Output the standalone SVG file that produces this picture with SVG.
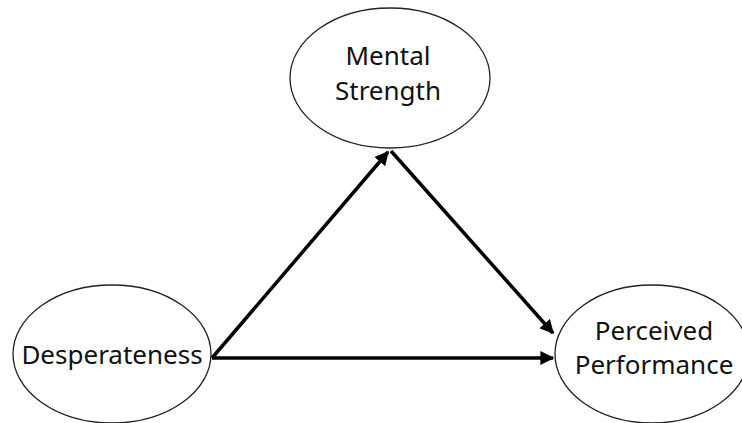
<svg xmlns="http://www.w3.org/2000/svg" width="742" height="423" viewBox="0 0 742 423">
<style>
.node{fill:#fff;stroke:#222;stroke-width:1.3}
.lbl{font-family:"Noto Sans","Open Sans",sans-serif;font-size:26px;fill:#111;text-anchor:middle}
.edge{stroke:#000;stroke-width:3.5;fill:none;marker-end:url(#ah)}
</style>
<defs>
<marker id="ah" viewBox="0 0 10 10" refX="9" refY="5" markerWidth="4" markerHeight="4" orient="auto" markerUnits="strokeWidth">
<path d="M0,0 L10,5 L0,10 z" fill="#000"/>
</marker>
</defs>
<rect width="742" height="423" fill="#fff"/>
<g id="edges">
<path class="edge" d="M212,358 L388,152"/>
<path class="edge" d="M391,151 L553,333"/>
<path class="edge" d="M212,358 L553,358"/>
</g>
<g id="mental">
<ellipse class="node" cx="390" cy="78" rx="100" ry="70"/>
<text class="lbl" x="388" y="65">Mental</text>
<text class="lbl" x="388" y="100">Strength</text>
</g>
<g id="desperateness">
<ellipse class="node" cx="112" cy="354" rx="99" ry="69"/>
<text class="lbl" x="112" y="364">Desperateness</text>
</g>
<g id="perceived">
<ellipse class="node" cx="652" cy="354" rx="97" ry="69"/>
<text class="lbl" x="654" y="340">Perceived</text>
<text class="lbl" x="654" y="374">Performance</text>
</g>
</svg>
